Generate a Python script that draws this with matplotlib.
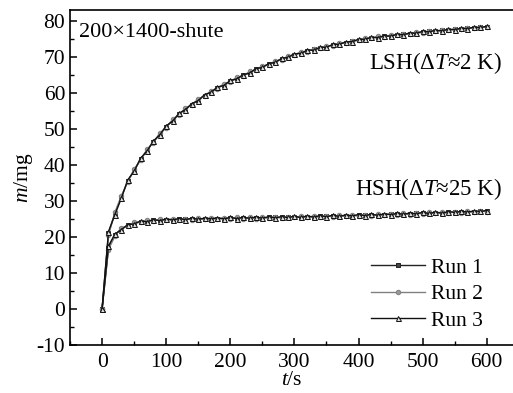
import matplotlib
matplotlib.use("Agg")
import matplotlib.pyplot as plt
from matplotlib.ticker import MultipleLocator

plt.rcParams['font.family'] = ['Liberation Serif', 'DejaVu Serif']
plt.rcParams['mathtext.fontset'] = 'custom'
plt.rcParams['mathtext.rm'] = 'Liberation Serif'
plt.rcParams['mathtext.it'] = 'Liberation Serif:italic'
plt.rcParams['axes.unicode_minus'] = False

t = list(range(0, 601, 10))

lsh1 = [0, 21, 26.5, 31, 35.5, 38.5, 41.5, 44, 46.3, 48.5,
        50.5, 52.3, 54, 55.5, 56.7, 58, 59.2, 60.3, 61.3, 62.2,
        63.2, 64, 64.8, 65.6, 66.5, 67.2, 67.9, 68.6, 69.3, 70,
        70.6, 71.1, 71.6, 72, 72.4, 72.8, 73.2, 73.6, 73.9, 74.3,
        74.6, 74.9, 75.2, 75.4, 75.6, 75.8, 76, 76.2, 76.4, 76.6,
        76.8, 77, 77.1, 77.3, 77.4, 77.6, 77.7, 77.9, 78, 78.1, 78.2]
lsh2 = [0, 20.5, 26.8, 31.4, 35.2, 38.8, 41.2, 44.3, 46.1, 48.8,
        50.3, 52.6, 53.8, 55.8, 56.5, 58.3, 59, 60.5, 61.1, 62.5,
        63, 64.3, 64.6, 65.9, 66.3, 67.4, 67.7, 68.8, 69.1, 70.2,
        70.4, 71.3, 71.4, 72.2, 72.3, 73, 73.1, 73.8, 73.8, 74.4,
        74.5, 75.1, 75.1, 75.6, 75.5, 76, 75.9, 76.4, 76.3, 76.8,
        76.7, 77.2, 77, 77.4, 77.3, 77.7, 77.6, 78, 77.9, 78.2, 78.1]
lsh3 = [0, 21.5, 26.2, 30.7, 35.8, 38.2, 41.8, 43.8, 46.6, 48.3,
        50.8, 52.1, 54.3, 55.3, 57, 57.8, 59.5, 60.1, 61.6, 62,
        63.4, 63.8, 65, 65.4, 66.7, 67, 68.1, 68.4, 69.5, 69.8,
        70.8, 70.9, 71.8, 71.8, 72.6, 72.6, 73.4, 73.4, 74.1, 74.2,
        74.8, 74.8, 75.4, 75.3, 75.8, 75.7, 76.2, 76.1, 76.6, 76.5,
        77, 76.9, 77.3, 77.2, 77.6, 77.5, 77.9, 77.8, 78.2, 78.1, 78.4]

hsh1 = [0, 17, 20.5, 22.2, 23.2, 23.8, 24.2, 24.4, 24.6, 24.7,
        24.8, 24.8, 24.9, 24.9, 25, 25, 25, 25.1, 25.1, 25.1,
        25.2, 25.2, 25.2, 25.3, 25.3, 25.3, 25.4, 25.4, 25.4, 25.5,
        25.5, 25.5, 25.6, 25.6, 25.7, 25.7, 25.8, 25.8, 25.9, 25.9,
        26, 26, 26.1, 26.1, 26.2, 26.3, 26.3, 26.4, 26.4, 26.5,
        26.6, 26.6, 26.7, 26.7, 26.8, 26.9, 26.9, 27, 27, 27.1, 27.2]
hsh2 = [0, 16.5, 20.2, 22.5, 23, 24, 24, 24.6, 24.4, 24.9,
        24.6, 25, 24.7, 25.1, 24.8, 25.2, 24.9, 25.3, 24.9, 25.3,
        25, 25.4, 25, 25.5, 25.1, 25.5, 25.2, 25.6, 25.3, 25.6,
        25.4, 25.7, 25.4, 25.8, 25.5, 25.9, 25.6, 26, 25.7, 26.1,
        25.8, 26.2, 25.9, 26.3, 26, 26.4, 26.1, 26.5, 26.2, 26.6,
        26.4, 26.8, 26.5, 26.9, 26.6, 27, 26.7, 27.1, 26.8, 27.2, 27]
hsh3 = [0, 17.5, 20.8, 22, 23.4, 23.6, 24.4, 24.2, 24.8, 24.5,
        25, 24.7, 25.1, 24.8, 25.2, 24.9, 25.2, 25, 25.3, 25,
        25.4, 25.1, 25.4, 25.2, 25.5, 25.2, 25.6, 25.3, 25.6, 25.4,
        25.7, 25.4, 25.8, 25.5, 25.9, 25.6, 26, 25.7, 26.1, 25.8,
        26.2, 25.9, 26.3, 26, 26.4, 26.2, 26.5, 26.3, 26.6, 26.4,
        26.8, 26.5, 26.9, 26.6, 27, 26.8, 27.1, 26.9, 27.2, 27.1, 27.3]

runLabels = ["Run 1", "Run 2", "Run 3"]

fig = plt.figure(figsize=(5.13, 3.93), dpi=100)
ax = fig.add_axes([0.1365, 0.122, 0.8635, 0.853])

styles = [dict(color="#222222", marker="s", markersize=3.2, mfc="#444444"),
          dict(color="#808080", marker="o", markersize=3.2, mfc="#999999"),
          dict(color="#111111", marker="^", markersize=3.6, mfc="#dddddd")]

for lsh, hsh, lab, st in zip([lsh1, lsh2, lsh3], [hsh1, hsh2, hsh3], runLabels, styles):
    ax.plot(t, hsh, lw=1.0, mew=0.7, label=lab, **st)
    ax.plot(t, lsh, lw=1.0, mew=0.7, **st)

ax.set_xlim(-50, 641)
ax.set_ylim(-10, 83)
ax.xaxis.set_major_locator(MultipleLocator(100))
ax.xaxis.set_minor_locator(MultipleLocator(50))
ax.yaxis.set_major_locator(MultipleLocator(10))
ax.yaxis.set_minor_locator(MultipleLocator(5))
ax.tick_params(which="both", direction="in", labelsize=15.5)
ax.tick_params(which="major", length=5, width=1.1)
ax.tick_params(which="minor", length=3, width=1.0)
ax.tick_params(axis="x", pad=6)
ax.spines["right"].set_visible(False)
for s in ["left", "bottom", "top"]:
    ax.spines[s].set_linewidth(1.2)

ax.set_xlabel(r"$t$/s", fontsize=15.5, labelpad=-1)
ax.set_ylabel(r"$m$/mg", fontsize=15.5, labelpad=1)

ax.text(0.02, 0.96, "200×1400-shute", transform=ax.transAxes, fontsize=16, va="top", ha="left")
ax.text(0.975, 0.84, r"LSH(Δ$T$≈2 K)", transform=ax.transAxes, fontsize=16.5, va="center", ha="right")
ax.text(0.975, 0.465, r"HSH(Δ$T$≈25 K)", transform=ax.transAxes, fontsize=16.5, va="center", ha="right")

ax.legend(loc="lower right", bbox_to_anchor=(0.975, -0.015), frameon=False, fontsize=15.5,
          handlelength=2.5, handletextpad=0.25, labelspacing=0.3)

fig.savefig("out.png", dpi=100)
